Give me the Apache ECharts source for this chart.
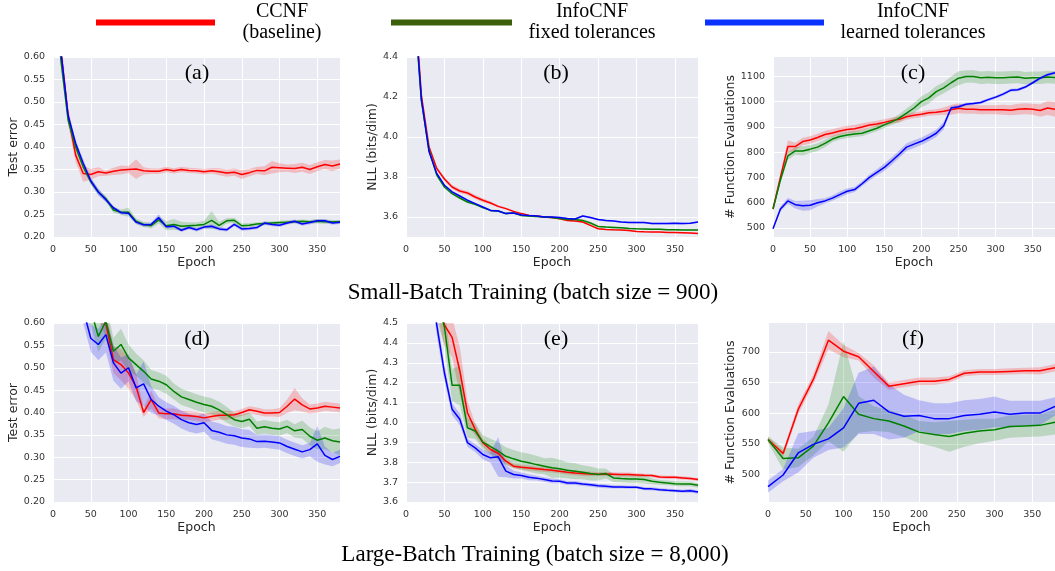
<!DOCTYPE html>
<html><head><meta charset="utf-8">
<script src="https://cdn.jsdelivr.net/npm/echarts@6/dist/echarts.min.js"></script>
<style>html,body{margin:0;padding:0;background:#fff}#c{width:1055px;height:571px}</style>
</head><body><div id="c"></div>
<script>
// ---------- data ----------
const seriesNames = ['CCNF (baseline)', 'InfoCNF fixed tolerances', 'InfoCNF learned tolerances'];
const legendLines = [['CCNF', '(baseline)'], ['InfoCNF', 'fixed tolerances'], ['InfoCNF', 'learned tolerances']];
const panelTitles = ['(a)', '(b)', '(c)', '(d)', '(e)', '(f)'];
const captions = ['Small-Batch Training (batch size = 900)', 'Large-Batch Training (batch size = 8,000)'];
const yNames = ['Test error', 'NLL (bits/dim)', '# Function Evaluations', 'Test error', 'NLL (bits/dim)', '# Function Evaluations'];

const epochs10 = [0,10,20,30,40,50,60,70,80,90,100,110,120,130,140,150,160,170,180,190,200,210,220,230,240,250,260,270,280,290,300,310,320,330,340,350,360,370,380];
const epochs20 = [0,20,40,60,80,100,120,140,160,180,200,220,240,260,280,300,320,340,360,380];
const epochTicks = [0,50,100,150,200,250,300,350];

const ticksA = [0.20,0.25,0.30,0.35,0.40,0.45,0.50,0.55,0.60];
const ticksB = [3.6,3.8,4.0,4.2,4.4];
const ticksC = [500,600,700,800,900,1000,1100];
const ticksD = [0.20,0.25,0.30,0.35,0.40,0.45,0.50,0.55,0.60];
const ticksE = [3.6,3.7,3.8,3.9,4.0,4.1,4.2,4.3,4.4,4.5];
const ticksF = [500,550,600,650,700];

// (a) small batch test error
const aRed   = [0.90,0.62,0.47,0.382,0.341,0.339,0.345,0.342,0.346,0.349,0.350,0.351,0.347,0.346,0.346,0.350,0.347,0.350,0.348,0.347,0.345,0.347,0.345,0.342,0.344,0.339,0.343,0.348,0.347,0.355,0.354,0.353,0.352,0.355,0.350,0.356,0.361,0.358,0.362];
const aRedW  = [0.03,0.03,0.02,0.015,0.018,0.012,0.01,0.006,0.008,0.01,0.008,0.022,0.008,0.006,0.006,0.006,0.006,0.006,0.006,0.006,0.006,0.006,0.008,0.008,0.008,0.01,0.008,0.008,0.01,0.014,0.01,0.008,0.01,0.01,0.01,0.01,0.01,0.012,0.01];
const aGreen = [0.90,0.60,0.46,0.40,0.356,0.323,0.300,0.285,0.260,0.255,0.255,0.235,0.228,0.225,0.238,0.225,0.228,0.224,0.225,0.226,0.228,0.237,0.226,0.236,0.237,0.225,0.226,0.229,0.230,0.231,0.232,0.233,0.234,0.235,0.234,0.235,0.234,0.234,0.234];
const aGreenW= [0.02,0.02,0.01,0.008,0.006,0.006,0.006,0.006,0.006,0.006,0.01,0.006,0.006,0.006,0.008,0.01,0.012,0.01,0.008,0.006,0.008,0.02,0.008,0.006,0.006,0.005,0.005,0.004,0.004,0.004,0.004,0.004,0.004,0.004,0.004,0.005,0.005,0.004,0.004];
const aBlue  = [0.90,0.62,0.47,0.408,0.364,0.325,0.300,0.283,0.265,0.254,0.253,0.233,0.227,0.228,0.243,0.223,0.224,0.215,0.221,0.216,0.222,0.224,0.218,0.216,0.228,0.218,0.219,0.221,0.231,0.228,0.226,0.231,0.235,0.229,0.232,0.236,0.236,0.231,0.233];
const aBlueW = [0.02,0.02,0.01,0.008,0.008,0.008,0.008,0.006,0.004,0.004,0.004,0.004,0.004,0.004,0.008,0.004,0.004,0.004,0.004,0.004,0.004,0.004,0.004,0.004,0.004,0.004,0.004,0.004,0.004,0.004,0.004,0.004,0.004,0.004,0.004,0.004,0.004,0.004,0.004];

// (b) small batch NLL
const bRed   = [5.5,4.75,4.21,3.95,3.843,3.79,3.75,3.73,3.72,3.70,3.684,3.67,3.653,3.642,3.628,3.617,3.608,3.605,3.600,3.597,3.591,3.583,3.580,3.575,3.558,3.541,3.538,3.536,3.535,3.532,3.528,3.526,3.525,3.525,3.523,3.522,3.521,3.520,3.518];
const bRedW  = [0.01,0.01,0.01,0.01,0.01,0.01,0.01,0.01,0.01,0.01,0.01,0.008,0.006,0.005,0.005,0.005,0.004,0.004,0.004,0.004,0.004,0.004,0.004,0.004,0.004,0.004,0.003,0.003,0.003,0.003,0.003,0.003,0.003,0.003,0.003,0.003,0.003,0.003,0.003];
const bGreen = [5.5,4.70,4.18,3.935,3.81,3.75,3.717,3.695,3.675,3.664,3.647,3.633,3.630,3.617,3.620,3.608,3.605,3.603,3.600,3.597,3.592,3.587,3.587,3.583,3.570,3.553,3.550,3.548,3.546,3.543,3.541,3.540,3.539,3.539,3.536,3.536,3.535,3.535,3.535];
const bGreenW= [0.006,0.006,0.006,0.006,0.006,0.006,0.006,0.006,0.006,0.006,0.005,0.005,0.005,0.005,0.005,0.005,0.005,0.005,0.005,0.005,0.005,0.005,0.005,0.006,0.006,0.004,0.004,0.004,0.004,0.004,0.004,0.004,0.004,0.004,0.004,0.004,0.004,0.004,0.004];
const bBlue  = [5.5,4.72,4.19,3.926,3.818,3.759,3.726,3.705,3.684,3.667,3.650,3.633,3.630,3.617,3.620,3.610,3.607,3.605,3.600,3.600,3.597,3.592,3.590,3.605,3.597,3.587,3.583,3.580,3.575,3.573,3.572,3.572,3.567,3.567,3.567,3.569,3.567,3.569,3.575];
const bBlueW = [0.004,0.004,0.004,0.004,0.004,0.004,0.004,0.004,0.004,0.004,0.004,0.004,0.004,0.004,0.004,0.004,0.004,0.004,0.004,0.004,0.004,0.004,0.004,0.005,0.004,0.004,0.004,0.004,0.004,0.004,0.004,0.004,0.004,0.004,0.004,0.004,0.004,0.004,0.004];

// (c) small batch NFE
const cRed   = [575,700,822,822,842,848,858,870,876,884,890,893,900,908,912,918,925,930,940,946,950,956,958,962,968,974,970,970,968,968,968,968,966,970,972,970,965,975,970];
const cRedW  = [8,15,25,15,15,15,15,15,15,15,15,15,15,12,12,12,12,12,12,12,12,12,12,15,20,20,18,18,18,18,18,20,20,22,22,22,25,28,30];
const cGreen = [575,690,785,805,805,812,820,835,852,862,868,872,875,885,895,908,920,935,955,975,1000,1015,1040,1055,1075,1093,1100,1100,1095,1097,1095,1095,1097,1098,1093,1095,1095,1098,1096];
const cGreenW= [8,12,15,15,18,15,15,15,12,12,12,12,12,12,12,12,12,15,18,20,22,22,22,22,25,28,25,25,25,25,25,25,25,25,25,25,25,25,25];
const cBlue  = [497,575,607,592,588,590,600,607,618,632,645,652,675,700,720,740,765,792,820,832,843,858,875,905,975,980,990,993,997,1008,1018,1030,1045,1047,1058,1075,1093,1107,1115];
const cBlueW = [5,10,12,15,20,20,15,10,10,12,12,10,10,12,12,15,15,15,15,15,15,15,15,15,8,8,6,6,6,6,6,6,6,6,6,6,6,6,6];

// (d) large batch test error
const dRed   = [1.0,0.9,0.8,0.72,0.68,0.66,0.64,0.598,0.518,0.507,0.488,0.458,0.400,0.429,0.399,0.397,0.397,0.394,0.393,0.391,0.388,0.391,0.394,0.394,0.395,0.400,0.406,0.403,0.399,0.399,0.400,0.414,0.430,0.417,0.408,0.410,0.414,0.412,0.410];
const dRedW  = [0.03,0.03,0.03,0.03,0.03,0.03,0.03,0.03,0.03,0.035,0.035,0.03,0.01,0.02,0.012,0.012,0.012,0.01,0.01,0.01,0.01,0.01,0.01,0.01,0.008,0.008,0.008,0.008,0.008,0.008,0.01,0.015,0.025,0.015,0.01,0.01,0.01,0.01,0.01];
const dGreen = [1.0,0.9,0.8,0.72,0.68,0.63,0.570,0.604,0.537,0.552,0.522,0.507,0.492,0.475,0.470,0.462,0.447,0.435,0.429,0.423,0.418,0.414,0.406,0.395,0.384,0.380,0.385,0.365,0.368,0.365,0.363,0.369,0.359,0.362,0.347,0.338,0.343,0.337,0.334];
const dGreenW= [0.03,0.03,0.03,0.03,0.03,0.035,0.035,0.04,0.03,0.035,0.03,0.025,0.025,0.02,0.02,0.02,0.018,0.018,0.018,0.018,0.018,0.018,0.018,0.018,0.015,0.015,0.015,0.015,0.015,0.015,0.015,0.015,0.015,0.02,0.02,0.02,0.025,0.025,0.03];
const dBlue  = [1.0,0.9,0.8,0.7,0.63,0.566,0.552,0.574,0.511,0.488,0.500,0.455,0.464,0.429,0.414,0.403,0.395,0.384,0.377,0.373,0.377,0.360,0.356,0.350,0.348,0.343,0.341,0.335,0.336,0.334,0.332,0.324,0.318,0.312,0.317,0.330,0.304,0.295,0.302];
const dBlueW = [0.03,0.03,0.03,0.03,0.03,0.03,0.035,0.04,0.04,0.035,0.03,0.03,0.05,0.03,0.02,0.02,0.02,0.02,0.02,0.02,0.02,0.02,0.02,0.02,0.02,0.02,0.02,0.015,0.015,0.015,0.015,0.015,0.015,0.015,0.015,0.04,0.02,0.015,0.015];

// (e) large batch NLL
const eRed   = [5.5,5.2,4.95,4.8,4.65,4.49,4.428,4.26,4.049,3.965,3.898,3.864,3.845,3.805,3.780,3.775,3.771,3.767,3.763,3.760,3.755,3.750,3.746,3.743,3.741,3.740,3.741,3.740,3.738,3.738,3.736,3.734,3.733,3.726,3.724,3.724,3.721,3.718,3.713];
const eRedW  = [0.1,0.1,0.1,0.1,0.1,0.1,0.1,0.12,0.06,0.03,0.02,0.02,0.02,0.015,0.012,0.012,0.012,0.012,0.012,0.012,0.012,0.012,0.012,0.012,0.012,0.01,0.01,0.01,0.01,0.01,0.01,0.008,0.008,0.008,0.008,0.008,0.008,0.008,0.008];
const eGreen = [5.5,5.2,4.95,4.8,4.62,4.48,4.187,4.187,3.973,3.957,3.901,3.878,3.856,3.830,3.817,3.805,3.797,3.788,3.780,3.772,3.767,3.760,3.755,3.750,3.743,3.738,3.743,3.721,3.718,3.716,3.716,3.713,3.704,3.699,3.696,3.692,3.691,3.691,3.684];
const eGreenW= [0.1,0.1,0.1,0.1,0.1,0.1,0.08,0.1,0.05,0.04,0.035,0.04,0.045,0.045,0.045,0.045,0.045,0.045,0.04,0.05,0.045,0.04,0.04,0.035,0.035,0.03,0.025,0.02,0.02,0.02,0.02,0.02,0.015,0.012,0.012,0.012,0.012,0.012,0.012];
const eBlue  = [5.5,5.2,4.95,4.8,4.49,4.25,4.066,4.016,3.898,3.872,3.839,3.822,3.827,3.755,3.738,3.733,3.724,3.720,3.713,3.706,3.704,3.696,3.696,3.691,3.687,3.682,3.679,3.676,3.676,3.674,3.674,3.667,3.666,3.662,3.659,3.657,3.654,3.657,3.650];
const eBlueW = [0.05,0.05,0.05,0.05,0.05,0.04,0.03,0.03,0.02,0.02,0.025,0.025,0.1,0.03,0.02,0.015,0.015,0.012,0.012,0.012,0.01,0.01,0.01,0.01,0.01,0.01,0.01,0.008,0.008,0.008,0.008,0.008,0.008,0.008,0.008,0.008,0.008,0.01,0.008];

// (f) large batch NFE (every 20 epochs)
const fRed   = [557,534,606,655,719,701,692,668,644,648,652,652,655,665,667,667,668,669,669,674];
const fRedW  = [5,5,8,8,15,10,6,10,6,6,6,6,5,5,5,5,5,5,6,6];
const fGreen = [557,526,527,546,584,627,598,591,587,579,569,565,562,567,571,573,578,579,580,585];
const fGreenW= [5,18,15,15,30,90,30,20,18,18,18,20,25,22,20,18,18,18,18,20];
const fBlue  = [480,499,535,549,558,576,616,621,602,595,596,591,591,596,598,602,598,600,600,611];
const fBlueW = [10,10,32,22,18,32,50,55,45,35,25,25,25,25,25,25,22,20,20,15];

// ---------- styling / layout ----------
const lineColors = ['#ff0000', '#008000', '#0000ff'];
const bandColors = ['rgba(255,0,0,0.2)', 'rgba(0,128,0,0.2)', 'rgba(0,0,255,0.2)'];
const legendColors = ['#ff0000', '#3b5f0b', '#0a32ff'];

const panels = [
  {grid:{left:53, top:57, width:287, height:180}, ymin:0.2, ymax:0.6, ticks:ticksA, dec:2, nameGap:33, xs:epochs10, data:[[aRed,aRedW],[aGreen,aGreenW],[aBlue,aBlueW]], title:[197,73]},
  {grid:{left:406, top:57, width:292, height:180}, ymin:3.5, ymax:4.4, ticks:ticksB, dec:1, nameGap:27, xs:epochs10, data:[[bRed,bRedW],[bGreen,bGreenW],[bBlue,bBlueW]], title:[556,73]},
  {grid:{left:773, top:57, width:282, height:180}, ymin:464, ymax:1177, ticks:ticksC, dec:0, nameGap:35, xs:epochs10, data:[[cRed,cRedW],[cGreen,cGreenW],[cBlue,cBlueW]], title:[913,73]},
  {grid:{left:53, top:323, width:287, height:179}, ymin:0.2, ymax:0.6, ticks:ticksD, dec:2, nameGap:33, xs:epochs10, data:[[dRed,dRedW],[dGreen,dGreenW],[dBlue,dBlueW]], title:[197,339]},
  {grid:{left:406, top:323, width:292, height:179}, ymin:3.6, ymax:4.5, ticks:ticksE, dec:1, nameGap:27, xs:epochs10, data:[[eRed,eRedW],[eGreen,eGreenW],[eBlue,eBlueW]], title:[556,339]},
  {grid:{left:768, top:323, width:287, height:179}, ymin:455, ymax:747, ticks:ticksF, dec:0, nameGap:31, xs:epochs20, data:[[fRed,fRedW],[fGreen,fGreenW],[fBlue,fBlueW]], title:[913,339]}
];

const sans = 'DejaVu Sans';
const serif = 'Liberation Serif';
const grids = [], xAxes = [], yAxes = [], series = [], graphics = [];

function pairs(xs, ys) { return xs.map((x, i) => [x, ys[i]]); }

function bandSeries(i, xs, mean, w, color) {
  return {
    type:'custom', xAxisIndex:i, yAxisIndex:i, silent:true, clip:true, z:1, animation:false,
    data:[[xs[0], mean[0]]],
    renderItem:function (params, api) {
      const top = xs.map((x, j) => api.coord([x, mean[j] + w[j]]));
      const bot = xs.map((x, j) => api.coord([x, mean[j] - w[j]])).reverse();
      const cs = params.coordSys;
      return {
        type:'group',
        clipPath:{type:'rect', shape:{x:cs.x, y:cs.y, width:cs.width, height:cs.height}},
        children:[{type:'polygon', shape:{points:top.concat(bot)}, style:{fill:color, stroke:null}}]
      };
    }
  };
}

panels.forEach((p, i) => {
  grids.push(Object.assign({show:true, backgroundColor:'#EAEAF2', borderWidth:0, containLabel:false}, p.grid));
  xAxes.push({
    gridIndex:i, type:'value', min:0, max:380,
    name:'Epoch', nameLocation:'middle', nameGap:18,
    nameTextStyle:{fontFamily:sans, fontSize:12.5, color:'#262626'},
    axisLine:{show:false}, axisTick:{show:false, customValues:epochTicks},
    axisLabel:{customValues:epochTicks, fontFamily:sans, fontSize:9.5, color:'#333', margin:8},
    splitLine:{show:true, lineStyle:{color:'#ffffff', width:1}}
  });
  yAxes.push({
    gridIndex:i, type:'value', min:p.ymin, max:p.ymax,
    name:yNames[i], nameLocation:'middle', nameGap:p.nameGap,
    nameTextStyle:{fontFamily:sans, fontSize:12.5, color:'#262626'},
    axisLine:{show:false}, axisTick:{show:false, customValues:p.ticks},
    axisLabel:{customValues:p.ticks, fontFamily:sans, fontSize:9.5, color:'#333', margin:8,
      formatter:(v) => Number(v).toFixed(p.dec)},
    splitLine:{show:true, lineStyle:{color:'#ffffff', width:1}}
  });
  p.data.forEach((d, k) => {
    series.push(bandSeries(i, p.xs, d[0], d[1], bandColors[k]));
  });
  p.data.forEach((d, k) => {
    series.push({type:'line', name:seriesNames[k], xAxisIndex:i, yAxisIndex:i,
      data:pairs(p.xs, d[0]), symbol:'none', lineStyle:{color:lineColors[k], width:1.5},
      itemStyle:{color:lineColors[k]}, z:3, animation:false});
  });
  graphics.push({type:'text', x:p.title[0], y:p.title[1], silent:true, z:100,
    style:{text:panelTitles[i], font:'22px "Liberation Serif"', fontFamily:serif, fontSize:22, fill:'#000',
      align:'center', verticalAlign:'middle', textAlign:'center', textVerticalAlign:'middle'}});
});

const captionPos = [[533, 293], [535, 555]];
captions.forEach((t, i) => {
  graphics.push({type:'text', x:captionPos[i][0], y:captionPos[i][1], silent:true, z:100,
    style:{text:t, font:'23px "Liberation Serif"', fontFamily:serif, fontSize:23, fill:'#000',
      align:'center', verticalAlign:'middle', textAlign:'center', textVerticalAlign:'middle'}});
});

const legendLeft = [96, 391, 705];
const legendIconW = [119, 121, 119];
const legendTextW = [124, 150, 168];
const legends = seriesNames.map((n, k) => ({
  left:legendLeft[k], top:2, padding:0, icon:'rect', itemWidth:legendIconW[k], itemHeight:6,
  selectedMode:false,
  data:[{name:n, itemStyle:{color:legendColors[k]}}],
  formatter:() => '{t|' + legendLines[k][0] + '}\n{t|' + legendLines[k][1] + '}',
  textStyle:{rich:{t:{fontFamily:serif, fontSize:20, lineHeight:21, width:legendTextW[k], align:'center', color:'#000'}}}
}));

const chart = echarts.init(document.getElementById('c'), null, {renderer:'canvas'});
chart.setOption({
  animation:false,
  backgroundColor:'#ffffff',
  legend:legends,
  grid:grids, xAxis:xAxes, yAxis:yAxes, series:series, graphic:graphics
});
</script></body></html>
